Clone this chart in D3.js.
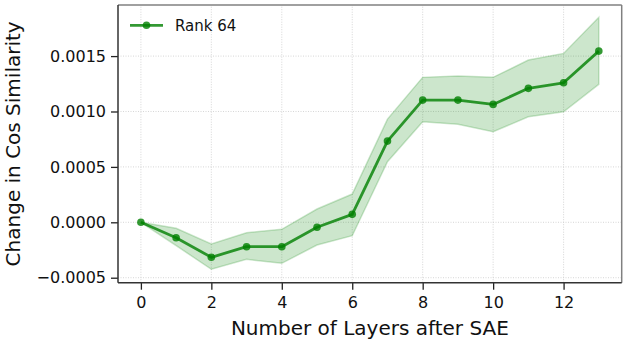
<!DOCTYPE html>
<html>
<head>
<meta charset="utf-8">
<script src="https://cdn.jsdelivr.net/npm/d3@7"></script>
<style>
  body { margin: 0; background: #fff; }
  svg { display: block; font-family: "DejaVu Sans", sans-serif; }
</style>
</head>
<body>
<div id="chart"></div>
<script>
// values
const layers = [0, 1, 2, 3, 4, 5, 6, 7, 8, 9, 10, 11, 12, 13];
const meanChange = [0, -0.000139, -0.000316, -0.00022, -0.00022, -0.000045, 0.000072, 0.000733,
                    0.001103, 0.001103, 0.001064, 0.001209, 0.001259, 0.001545];
const upperBand = [0, -0.000054, -0.000196, -0.000094, -0.000063, 0.00012, 0.000255, 0.000931,
                   0.001308, 0.00132, 0.001308, 0.001464, 0.001524, 0.00185];
const lowerBand = [0, -0.00021, -0.000424, -0.000334, -0.00037, -0.000205, -0.000121, 0.000547,
                   0.000907, 0.000884, 0.000817, 0.000952, 0.000997, 0.001245];
const xTicks = [0, 2, 4, 6, 8, 10, 12];
const yTicks = [-0.0005, 0, 0.0005, 0.0010, 0.0015];
const seriesName = "Rank 64";

const width = 627, height = 345;
const margin = {top: 5, right: 5.3, bottom: 62.3, left: 118};

const svg = d3.select("#chart").append("svg")
    .attr("width", width)
    .attr("height", height);

const x = d3.scaleLinear().domain([-0.65, 13.65]).range([margin.left, width - margin.right]);
const y = d3.scaleLinear().domain([-0.000545, 0.001961]).range([height - margin.bottom, margin.top]);

const green = "#008000";
const data = layers.map((l, i) => ({l: l, m: meanChange[i], hi: upperBand[i], lo: lowerBand[i]}));

// grid
const grid = svg.append("g");
grid.selectAll(".gx").data(xTicks).enter().append("line")
    .attr("x1", d => x(d)).attr("x2", d => x(d))
    .attr("y1", y.range()[0]).attr("y2", y.range()[1])
    .attr("stroke", "#cccccc").attr("stroke-width", 0.8).attr("stroke-dasharray", "1,1.5");
grid.selectAll(".gy").data(yTicks).enter().append("line")
    .attr("y1", d => y(d)).attr("y2", d => y(d))
    .attr("x1", x.range()[0]).attr("x2", x.range()[1])
    .attr("stroke", "#cccccc").attr("stroke-width", 0.8).attr("stroke-dasharray", "1,1.5");

// band
const area = d3.area().x(d => x(d.l)).y0(d => y(d.lo)).y1(d => y(d.hi));
svg.append("path").datum(data)
    .attr("d", area)
    .attr("fill", green).attr("fill-opacity", 0.2)
    .attr("stroke", green).attr("stroke-opacity", 0.2).attr("stroke-width", 1.5);

// line + markers
const line = d3.line().x(d => x(d.l)).y(d => y(d.m));
svg.append("path").datum(data)
    .attr("d", line)
    .attr("fill", "none").attr("stroke", green).attr("stroke-opacity", 0.8)
    .attr("stroke-width", 2.8).attr("stroke-linejoin", "round");
svg.selectAll(".pt").data(data).enter().append("circle")
    .attr("cx", d => x(d.l)).attr("cy", d => y(d.m)).attr("r", 3.8)
    .attr("fill", green).attr("fill-opacity", 0.8);

// axes
const xAxis = svg.append("g")
    .attr("transform", `translate(0,${height - margin.bottom})`)
    .call(d3.axisBottom(x).tickValues(xTicks).tickSize(7).tickPadding(7));
const yAxis = svg.append("g")
    .attr("transform", `translate(${margin.left},0)`)
    .call(d3.axisLeft(y).tickValues(yTicks).tickSize(7).tickPadding(5).tickFormat(d3.format(".4f")));
[xAxis, yAxis].forEach(a => {
  a.select(".domain").remove();
  a.selectAll(".tick line").attr("stroke", "#222").attr("stroke-width", 1.3);
  a.selectAll(".tick text").attr("fill", "#111").style("font-size", "16px")
    .style("font-family", "DejaVu Sans");
});

// spines
svg.append("line").attr("x1", x.range()[0]).attr("x2", x.range()[1])
    .attr("y1", y.range()[1]).attr("y2", y.range()[1]).attr("stroke", "#808080").attr("stroke-width", 1.5);
svg.append("line").attr("x1", x.range()[1]).attr("x2", x.range()[1])
    .attr("y1", y.range()[0]).attr("y2", y.range()[1]).attr("stroke", "#808080").attr("stroke-width", 1.5);
svg.append("line").attr("x1", x.range()[0]).attr("x2", x.range()[1])
    .attr("y1", y.range()[0]).attr("y2", y.range()[0]).attr("stroke", "#333").attr("stroke-width", 1.5);
svg.append("line").attr("x1", x.range()[0]).attr("x2", x.range()[0])
    .attr("y1", y.range()[0]).attr("y2", y.range()[1]).attr("stroke", "#333").attr("stroke-width", 1.5);

// axis labels
svg.append("text")
    .attr("x", x(6.5)).attr("y", 335)
    .attr("text-anchor", "middle").style("font-size", "20px").attr("fill", "#111")
    .text("Number of Layers after SAE");
svg.append("text")
    .attr("transform", `translate(19.5,${(margin.top + height - margin.bottom) / 2}) rotate(-90)`)
    .attr("text-anchor", "middle").style("font-size", "20px").attr("fill", "#111")
    .text("Change in Cos Similarity");

// legend
const lg = svg.append("g").attr("transform", "translate(130,25.3)");
lg.append("line").attr("x1", 0).attr("x2", 33).attr("y1", 0).attr("y2", 0)
    .attr("stroke", green).attr("stroke-opacity", 0.8).attr("stroke-width", 2.8);
lg.append("circle").attr("cx", 16.5).attr("cy", 0).attr("r", 3.8)
    .attr("fill", green).attr("fill-opacity", 0.8);
lg.append("text").attr("x", 45).attr("y", 5.3).style("font-size", "15px").attr("fill", "#111")
    .text(seriesName);
</script>
</body>
</html>
